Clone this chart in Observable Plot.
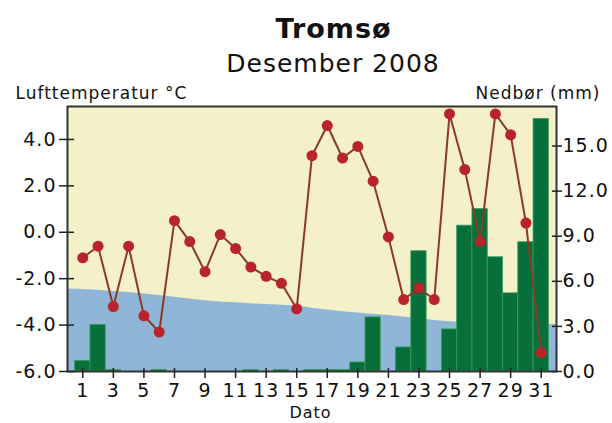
<!DOCTYPE html>
<html><head><meta charset="utf-8">
<script src="https://cdn.jsdelivr.net/npm/d3@7"></script>
<script src="https://cdn.jsdelivr.net/npm/@observablehq/plot@0.6"></script>
<style>body{margin:0;background:#fff}</style>
</head><body><div id="chart"></div>
<script>
const days = [1,2,3,4,5,6,7,8,9,10,11,12,13,14,15,16,17,18,19,20,21,22,23,24,25,26,27,28,29,30,31];
const temperature = [-1.1,-0.6,-3.2,-0.6,-3.6,-4.3,0.5,-0.4,-1.7,-0.1,-0.7,-1.5,-1.9,-2.2,-3.3,3.3,4.6,3.2,3.7,2.2,-0.2,-2.9,-2.4,-2.9,5.1,2.7,-0.4,5.1,4.2,0.4,-5.2];
const precipitation = [0.7,3.1,0.1,0,0,0.1,0,0,0,0,0,0.1,0,0.1,0,0.1,0.1,0.1,0.6,3.6,0,1.6,8.0,0,2.8,9.7,10.8,7.6,5.2,8.6,16.8];
const normalDays = [0,1,2,3,4,5,6,7,8,9,10,11,12,13,14,15,16,17,18,19,20,21,22,23,24,25,26,27,28,29,30,31,32];
const normalTemp = [-2.45,-2.47,-2.5,-2.55,-2.6,-2.66,-2.72,-2.8,-2.88,-2.95,-3.0,-3.04,-3.08,-3.11,-3.14,-3.18,-3.27,-3.35,-3.42,-3.48,-3.53,-3.59,-3.65,-3.72,-3.8,-3.86,-3.89,-3.91,-3.93,-3.94,-3.95,-3.96,-3.97];
const tempTicks = [-6,-4,-2,0,2,4];
const precipTicks = [0,3,6,9,12,15];
const dayTicks = [1,3,5,7,9,11,13,15,17,19,21,23,25,27,29,31];
const tempDomain = [-6, 5.42];
const precipMax = 17.63;

const toT = p => tempDomain[0] + p * (tempDomain[1] - tempDomain[0]) / precipMax;
const toP = t => (t - tempDomain[0]) * precipMax / (tempDomain[1] - tempDomain[0]);

const tempData = days.map((d, i) => ({day: d, t: temperature[i]}));
const precipData = days.map((d, i) => ({day: d, p: precipitation[i]})).filter(d => d.p > 0);
const normalData = normalDays.map((d, i) => ({day: d, t: normalTemp[i]}));

const chart = Plot.plot({
  width: 612, height: 423,
  marginTop: 106, marginBottom: 52, marginLeft: 67, marginRight: 56,
  style: {fontFamily: "'DejaVu Sans', sans-serif", fontSize: "19px", letterSpacing: "1px", color: "#111", background: "#fff", overflow: "visible"},
  x: {domain: [0, 32]},
  y: {domain: tempDomain},
  marks: [
    Plot.frame({fill: "#f4f0c9", stroke: null}),
    Plot.areaY(normalData, {x: "day", y1: tempDomain[0], y2: "t", fill: "#8fb5d7"}),
    Plot.rectY(precipData, {x1: d => d.day - 0.5, x2: d => d.day + 0.5, y1: tempDomain[0], y2: d => toT(d.p), fill: "#07703a", stroke: "#3b9a5c", strokeWidth: 0.8}),
    Plot.line(tempData, {x: "day", y: "t", stroke: "#8a3a28", strokeWidth: 2}),
    Plot.dot(tempData, {x: "day", y: "t", r: 5.5, fill: "#b8242a"}),
    Plot.frame({stroke: "#333", strokeWidth: 2}),
    Plot.axisY(tempTicks, {anchor: "left", tickSize: 15, dx: 7, tickPadding: 3, tickFormat: d => d.toFixed(1), stroke: "#222", strokeWidth: 1.5, label: null}),
    Plot.axisY(precipTicks.map(toT), {anchor: "right", tickSize: 10, dx: -5, tickPadding: 1, tickFormat: t => toP(t).toFixed(1), stroke: "#222", strokeWidth: 1.5, label: null}),
    Plot.axisX(dayTicks, {anchor: "bottom", tickSize: 10, dy: -3, tickPadding: 5, stroke: "#222", strokeWidth: 1.5, label: null}),
    Plot.text(["Tromsø"], {text: d => d, frameAnchor: "top", dx: 21.5, dy: -69, lineAnchor: "bottom", fontSize: 27, fontWeight: "bold"}),
    Plot.text(["Desember 2008"], {text: d => d, frameAnchor: "top", dx: 21, dy: -34.5, lineAnchor: "bottom", fontSize: 25}),
    Plot.text(["Lufttemperatur °C"], {text: d => d, frameAnchor: "top-left", dx: -52, dy: -8, textAnchor: "start", lineAnchor: "bottom", fontSize: 17}),
    Plot.text(["Nedbør (mm)"], {text: d => d, frameAnchor: "top-right", dx: 44, dy: -8, textAnchor: "end", lineAnchor: "bottom", fontSize: 17}),
    Plot.text(["Dato"], {text: d => d, frameAnchor: "bottom", dx: -1.5, dy: 46, lineAnchor: "bottom", fontSize: 16})
  ]
});
document.getElementById("chart").appendChild(chart);
</script>
</body></html>
